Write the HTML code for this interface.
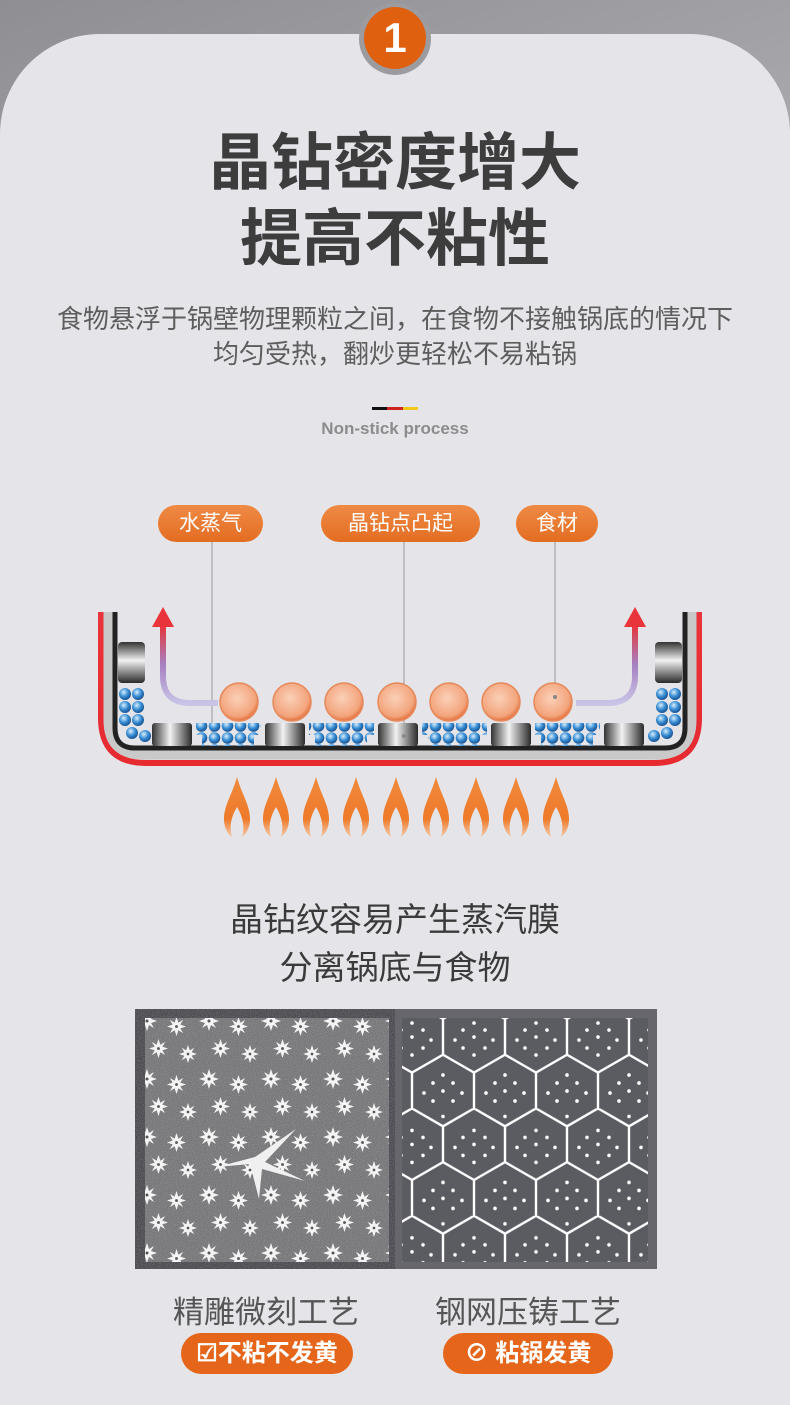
<!DOCTYPE html>
<html><head><meta charset="utf-8">
<style>
html,body{margin:0;padding:0;width:790px;height:1405px;overflow:hidden}
body{position:relative;background:linear-gradient(160deg,#8f8f93 0%,#b9b9bd 40%,#c9c9cd 70%,#a9a9ad 100%);font-family:"Liberation Sans","Noto Sans CJK SC",sans-serif}
.card{position:absolute;left:0;top:34px;width:790px;height:1371px;background:#e5e5e9;border-radius:100px 100px 0 0}
.t{position:absolute;left:0;width:790px;text-align:center}
.pill{position:absolute;background:linear-gradient(#ef8a45,#e36d22);color:#fff;border-radius:20px;text-align:center;font-size:21px}
.bp{position:absolute;background:#e5661a;color:#fff;border-radius:21px;text-align:center;font-size:24px;font-weight:bold;line-height:41px}
</style></head><body>
<div class="card"></div>
<div style="position:absolute;left:359px;top:3px;width:72px;height:72px;border-radius:50%;background:#9c9ca0"></div>
<div style="position:absolute;left:364px;top:7px;width:62px;height:62px;border-radius:50%;background:#df600f;color:#fff;font-size:42px;font-weight:bold;line-height:62px;text-align:center">1</div>
<div class="t" style="top:126px;font-size:62px;font-weight:bold;color:#3d3d3d;line-height:76px">晶钻密度增大<br>提高不粘性</div>
<div class="t" style="top:302px;font-size:26px;color:#5d5d5d;line-height:35px">食物悬浮于锅壁物理颗粒之间，在食物不接触锅底的情况下<br>均匀受热，翻炒更轻松不易粘锅</div>
<div style="position:absolute;left:372px;top:407px;width:15px;height:3px;background:#111"></div>
<div style="position:absolute;left:387px;top:407px;width:16px;height:3px;background:#d0231c"></div>
<div style="position:absolute;left:403px;top:407px;width:15px;height:3px;background:#f2c81c"></div>
<div class="t" style="top:419px;font-size:17px;font-weight:bold;color:#8c8c8c">Non-stick process</div>

<div class="pill" style="left:158px;top:505px;width:105px;height:37px;line-height:37px">水蒸气</div>
<div class="pill" style="left:321px;top:505px;width:159px;height:37px;line-height:37px">晶钻点凸起</div>
<div class="pill" style="left:516px;top:505px;width:82px;height:37px;line-height:37px">食材</div>

<svg style="position:absolute;left:0;top:0" width="790" height="880">
<defs>
<linearGradient id="red" x1="0" y1="0" x2="0" y2="1"><stop offset="0" stop-color="#e8343a"/><stop offset="1" stop-color="#e62a30"/></linearGradient>
<linearGradient id="met" x1="0" y1="0" x2="1" y2="0"><stop offset="0" stop-color="#333"/><stop offset=".45" stop-color="#f2f2f2"/><stop offset="1" stop-color="#2a2a2a"/></linearGradient>
<linearGradient id="metv" x1="0" y1="0" x2="0" y2="1"><stop offset="0" stop-color="#333"/><stop offset=".45" stop-color="#f2f2f2"/><stop offset="1" stop-color="#2a2a2a"/></linearGradient>
<radialGradient id="org" cx=".45" cy=".4" r=".6"><stop offset="0" stop-color="#fbd0b8"/><stop offset=".8" stop-color="#f3a47c"/><stop offset="1" stop-color="#e4703c"/></radialGradient>
<radialGradient id="blu" cx=".4" cy=".35" r=".6"><stop offset="0" stop-color="#d8eefc"/><stop offset=".6" stop-color="#3a8fd6"/><stop offset="1" stop-color="#1d5c9c"/></radialGradient>
<pattern id="balls" width="13" height="12" patternUnits="userSpaceOnUse"><circle cx="6.5" cy="6" r="5.8" fill="url(#blu)"/></pattern>
<linearGradient id="arrL" x1="0" y1="1" x2="0" y2="0"><stop offset="0" stop-color="#c8c4e6"/><stop offset=".5" stop-color="#a67fc0"/><stop offset="1" stop-color="#e8343a"/></linearGradient>
<linearGradient id="fl" x1="0" y1="0" x2="0" y2="1"><stop offset="0" stop-color="#f08a3c"/><stop offset=".7" stop-color="#ee7a2a"/><stop offset="1" stop-color="#f6c9a8"/></linearGradient>
<symbol id="flame" viewBox="0 0 26 60"><path d="M13 0 C8 18 0 28 0 42 C0 52 5 58 8 60 C5 50 7 40 13 30 C19 40 21 50 18 60 C21 58 26 52 26 42 C26 28 18 18 13 0Z" fill="url(#fl)"/></symbol>
</defs>
<line x1="212" y1="542" x2="212" y2="735" stroke="#999" stroke-width="1"/>
<line x1="404" y1="542" x2="404" y2="735" stroke="#999" stroke-width="1"/>
<line x1="555" y1="542" x2="555" y2="700" stroke="#999" stroke-width="1"/>
<path d="M101,612 V718 Q101,763 146,763 H654 Q699,763 699,718 V612" fill="none" stroke="url(#red)" stroke-width="6"/>
<path d="M108,612 V720 Q108,755 143,755 H657 Q692,755 692,720 V612" fill="none" stroke="#c9c9c9" stroke-width="9"/>
<path d="M115,612 V728 Q115,748 135,748 H665 Q685,748 685,728 V612" fill="none" stroke="#222" stroke-width="5"/>
<rect x="118" y="642" width="27" height="41" rx="4" fill="url(#metv)"/>
<rect x="655" y="642" width="27" height="41" rx="4" fill="url(#metv)"/>
<g fill="url(#met)">
<rect x="152" y="723" width="40" height="23" rx="3"/>
<rect x="265" y="723" width="40" height="23" rx="3"/>
<rect x="378" y="723" width="40" height="23" rx="3"/>
<rect x="491" y="723" width="40" height="23" rx="3"/>
<rect x="604" y="723" width="40" height="23" rx="3"/>
</g>
<circle cx="404" cy="736" r="2" fill="#888"/>
<g fill="url(#balls)">
<rect x="196" y="723" width="65" height="12"/><rect x="202" y="735" width="52" height="11"/>
<rect x="309" y="723" width="65" height="12"/><rect x="315" y="735" width="52" height="11"/>
<rect x="422" y="723" width="65" height="12"/><rect x="428" y="735" width="52" height="11"/>
<rect x="535" y="723" width="65" height="12"/><rect x="541" y="735" width="52" height="11"/>
</g>
<g fill="url(#blu)">
<circle cx="125" cy="694" r="6"/><circle cx="138" cy="694" r="6"/><circle cx="125" cy="707" r="6"/><circle cx="138" cy="707" r="6"/><circle cx="125" cy="720" r="6"/><circle cx="138" cy="720" r="6"/><circle cx="132" cy="733" r="6"/><circle cx="145" cy="736" r="6"/>
<circle cx="662" cy="694" r="6"/><circle cx="675" cy="694" r="6"/><circle cx="662" cy="707" r="6"/><circle cx="675" cy="707" r="6"/><circle cx="662" cy="720" r="6"/><circle cx="675" cy="720" r="6"/><circle cx="667" cy="733" r="6"/><circle cx="654" cy="736" r="6"/>
</g>
<g fill="url(#org)" stroke="#e6895a" stroke-width="1.5">
<circle cx="239" cy="702" r="19"/><circle cx="292" cy="702" r="19"/><circle cx="344" cy="702" r="19"/><circle cx="397" cy="702" r="19"/><circle cx="449" cy="702" r="19"/><circle cx="501" cy="702" r="19"/><circle cx="553" cy="702" r="19"/>
</g>
<circle cx="555" cy="697" r="2" fill="#888"/>
<path d="M218,703 H190 Q163,703 163,676 V625" fill="none" stroke="url(#arrL)" stroke-width="6"/>
<polygon points="152,627 163,607 174,627" fill="#e8343a"/>
<path d="M576,703 H608 Q635,703 635,676 V625" fill="none" stroke="url(#arrL)" stroke-width="6"/>
<polygon points="624,627 635,607 646,627" fill="#e8343a"/>
<use href="#flame" x="224" y="777" width="26" height="60"/>
<use href="#flame" x="263" y="777" width="26" height="60"/>
<use href="#flame" x="303" y="777" width="26" height="60"/>
<use href="#flame" x="343" y="777" width="26" height="60"/>
<use href="#flame" x="383" y="777" width="26" height="60"/>
<use href="#flame" x="423" y="777" width="26" height="60"/>
<use href="#flame" x="463" y="777" width="26" height="60"/>
<use href="#flame" x="503" y="777" width="26" height="60"/>
<use href="#flame" x="543" y="777" width="26" height="60"/>
</svg>

<div class="t" style="top:896px;font-size:33px;color:#3a3a3a;line-height:48px">晶钻纹容易产生蒸汽膜<br>分离锅底与食物</div>

<svg style="position:absolute;left:135px;top:1009px" width="522" height="260">
<defs>
<filter id="noise"><feTurbulence type="fractalNoise" baseFrequency="1.2" numOctaves="1" seed="3"/><feColorMatrix type="saturate" values="0"/><feComponentTransfer><feFuncA type="table" tableValues="0 0.7"/></feComponentTransfer></filter>
<symbol id="st" viewBox="-10 -10 20 20"><polygon points="0,-10 2,-4 7,-7 4,-2 10,0 4,2 7,7 2,4 0,10 -2,4 -7,7 -4,2 -10,0 -4,-2 -7,-7 -2,-4" fill="#f4f4f4"/><circle r="1.5" fill="#555"/></symbol>
<pattern id="stars" width="62" height="58" patternUnits="userSpaceOnUse">
<use href="#st" x="2" y="2" width="20" height="20"/><use href="#st" x="32" y="8" width="19" height="19"/><use href="#st" x="14" y="30" width="19" height="19"/><use href="#st" x="44" y="36" width="18" height="18"/>
</pattern>
<pattern id="hex" width="62" height="107.4" patternUnits="userSpaceOnUse" x="-2" y="-8">
<path d="M0,17.9 L31,0 L62,17.9 M0,17.9 V53.7 M62,17.9 V53.7 M0,53.7 L31,71.6 L62,53.7 M31,71.6 V107.4" fill="none" stroke="#fff" stroke-width="2.4"/>
<g fill="#fff"><circle cx="31" cy="22" r="1.8"/><circle cx="20" cy="29" r="1.8"/><circle cx="42" cy="29" r="1.8"/><circle cx="31" cy="36" r="1.8"/><circle cx="12" cy="39" r="1.8"/><circle cx="50" cy="39" r="1.8"/><circle cx="20" cy="47" r="1.8"/><circle cx="42" cy="47" r="1.8"/><circle cx="31" cy="54" r="1.8"/>
<circle cx="0" cy="74" r="1.8"/><circle cx="10" cy="82" r="1.8"/><circle cx="52" cy="82" r="1.8"/><circle cx="62" cy="74" r="1.8"/><circle cx="19" cy="92" r="1.8"/><circle cx="43" cy="92" r="1.8"/><circle cx="0" cy="90" r="1.8"/><circle cx="62" cy="90" r="1.8"/><circle cx="10" cy="100" r="1.8"/><circle cx="52" cy="100" r="1.8"/><circle cx="0" cy="8" r="1.8"/><circle cx="62" cy="8" r="1.8"/></g>
</pattern>
</defs>
<rect x="0" y="0" width="260" height="260" fill="#2f2e36"/>
<rect x="10" y="9" width="244" height="244" fill="#66666a"/>
<rect x="10" y="9" width="244" height="244" filter="url(#noise)" opacity=".8"/>
<rect x="10" y="9" width="244" height="244" fill="url(#stars)"/>
<polygon points="82,158 120,148 161,120 130,153 170,172 127,160 124,190 115,155" fill="#f0f0f0"/>
<rect x="260" y="0" width="262" height="260" fill="#66666c"/>
<rect x="267" y="9" width="246" height="244" fill="#5b5c61"/>
<rect x="267" y="9" width="246" height="244" fill="url(#hex)"/>
</svg>

<div style="position:absolute;left:125px;top:1287px;width:282px;text-align:center;font-size:31px;color:#555">精雕微刻工艺</div>
<div style="position:absolute;left:387px;top:1287px;width:282px;text-align:center;font-size:31px;color:#555">钢网压铸工艺</div>
<div class="bp" style="left:181px;top:1333px;width:172px;height:41px">☑不粘不发黄</div>
<div class="bp" style="left:443px;top:1333px;width:170px;height:41px">⊘ 粘锅发黄</div>
</body></html>
